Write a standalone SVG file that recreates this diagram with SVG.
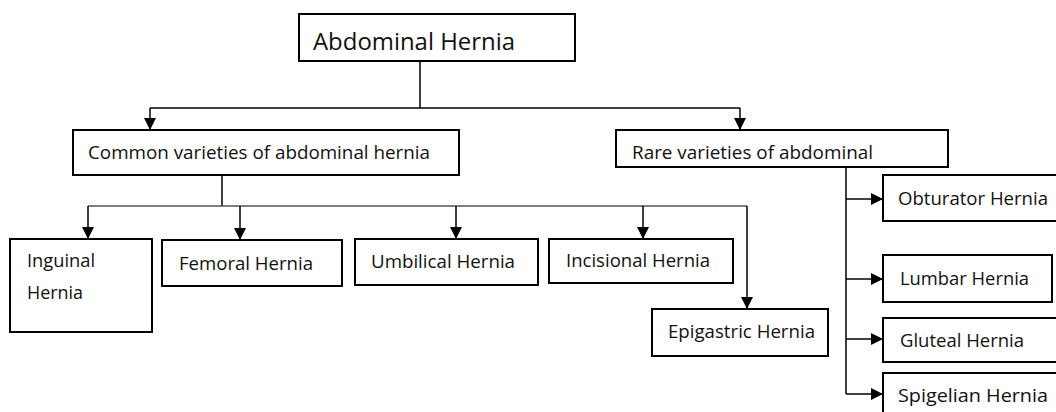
<svg xmlns="http://www.w3.org/2000/svg" width="1056" height="412" viewBox="0 0 1056 412">
<style>
.box{fill:#fff;stroke:#000;stroke-width:2}
.t{font-family:"Open Sans","Noto Sans",sans-serif;font-size:19px;fill:#111}
.big{font-size:24.5px}
.ln{fill:none;stroke:#000;stroke-width:1.5}
.gl{fill:none;stroke:#555;stroke-width:1.5}
</style>
<defs>
<marker id="ah" markerUnits="userSpaceOnUse" markerWidth="12" markerHeight="12" viewBox="0 0 12 12" refX="12" refY="6" orient="auto">
<path d="M0,0 L12,6 L0,12 Z" fill="#000"/>
</marker>
</defs>
<rect width="1056" height="412" fill="#fff"/>
<g id="connectors">
<path class="ln" d="M420,61 V108"/>
<path class="ln" d="M150,108 H740"/>
<path class="ln" d="M150,108 V130" marker-end="url(#ah)"/>
<path class="ln" d="M740,108 V130" marker-end="url(#ah)"/>
<path class="ln" d="M222,175 V206"/>
<path class="gl" d="M88,206 H747"/>
<path class="ln" d="M88,206 V239" marker-end="url(#ah)"/>
<path class="ln" d="M240,206 V240" marker-end="url(#ah)"/>
<path class="ln" d="M456,206 V239" marker-end="url(#ah)"/>
<path class="ln" d="M643,206 V239" marker-end="url(#ah)"/>
<path class="ln" d="M747,206 V309" marker-end="url(#ah)"/>
<path class="ln" d="M846,167 V394"/>
<path class="ln" d="M846,199 H883" marker-end="url(#ah)"/>
<path class="ln" d="M846,279 H883" marker-end="url(#ah)"/>
<path class="ln" d="M846,339 H883" marker-end="url(#ah)"/>
<path class="ln" d="M846,394 H883" marker-end="url(#ah)"/>
</g>
<g id="abdominal">
<rect class="box" x="299" y="14" width="276" height="47"/>
<text class="t big" x="313" y="50" textLength="202" lengthAdjust="spacingAndGlyphs">Abdominal Hernia</text>
</g>
<g id="common">
<rect class="box" x="73" y="130" width="386" height="45"/>
<text class="t" x="88" y="159" textLength="342" lengthAdjust="spacingAndGlyphs">Common varieties of abdominal hernia</text>
</g>
<g id="rare">
<rect class="box" x="616" y="130" width="332" height="37"/>
<text class="t" x="632" y="159" textLength="241" lengthAdjust="spacingAndGlyphs">Rare varieties of abdominal</text>
</g>
<g id="inguinal">
<rect class="box" x="10" y="239" width="142" height="93"/>
<text class="t" x="27" y="267" textLength="68" lengthAdjust="spacingAndGlyphs">Inguinal</text>
<text class="t" x="27" y="299" textLength="56" lengthAdjust="spacingAndGlyphs">Hernia</text>
</g>
<g id="femoral">
<rect class="box" x="162" y="240" width="180" height="46"/>
<text class="t" x="179" y="270" textLength="134" lengthAdjust="spacingAndGlyphs">Femoral Hernia</text>
</g>
<g id="umbilical">
<rect class="box" x="355" y="239" width="183" height="46"/>
<text class="t" x="371" y="268" textLength="144" lengthAdjust="spacingAndGlyphs">Umbilical Hernia</text>
</g>
<g id="incisional">
<rect class="box" x="549" y="239" width="184" height="44"/>
<text class="t" x="566" y="267" textLength="144" lengthAdjust="spacingAndGlyphs">Incisional Hernia</text>
</g>
<g id="epigastric">
<rect class="box" x="652" y="309" width="176" height="47"/>
<text class="t" x="668" y="338" textLength="147" lengthAdjust="spacingAndGlyphs">Epigastric Hernia</text>
</g>
<g id="obturator">
<rect class="box" x="883" y="175" width="180" height="46"/>
<text class="t" x="898" y="205" textLength="150" lengthAdjust="spacingAndGlyphs">Obturator Hernia</text>
</g>
<g id="lumbar">
<rect class="box" x="883" y="255" width="169" height="47"/>
<text class="t" x="900" y="285" textLength="129" lengthAdjust="spacingAndGlyphs">Lumbar Hernia</text>
</g>
<g id="gluteal">
<rect class="box" x="883" y="318" width="180" height="44"/>
<text class="t" x="900" y="347" textLength="124" lengthAdjust="spacingAndGlyphs">Gluteal Hernia</text>
</g>
<g id="spigelian">
<rect class="box" x="883" y="373" width="180" height="50"/>
<text class="t" x="898" y="402" textLength="150" lengthAdjust="spacingAndGlyphs">Spigelian Hernia</text>
</g>
</svg>
